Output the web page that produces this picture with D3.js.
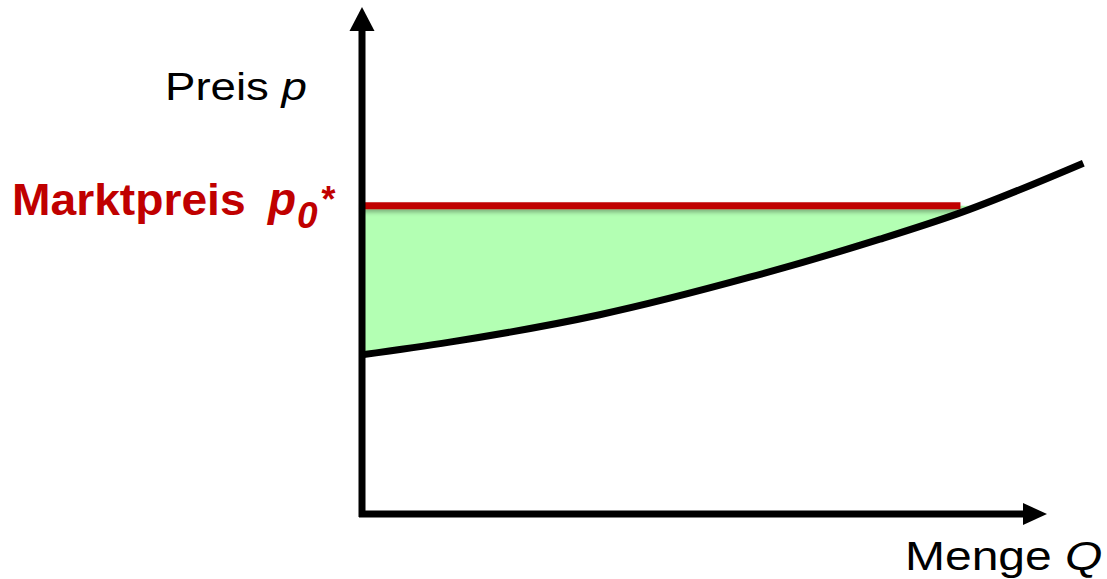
<!DOCTYPE html>
<html>
<head>
<meta charset="utf-8">
<script src="https://cdn.jsdelivr.net/npm/d3@7"></script>
<style>
  html, body { margin: 0; padding: 0; background: #fff; }
  svg { display: block; font-family: "Liberation Sans", Arial, sans-serif; }
</style>
</head>
<body>
<svg id="chart"></svg>
<script>
// supply curve (Q, p in arbitrary units)
const supplyQ = [0.06, 1.28, 3.47, 5.66, 7.56, 8.69, 10.53];
const supplyP = [3.14, 3.39, 3.93, 4.67, 5.42, 5.92, 6.92];
// market price
const marketPrice = 6.08;
// labels
const yLabel = ["Preis ", "p"];
const xLabel = ["Menge ", "Q"];
const priceLabel = ["Marktpreis", "p", "0", "*"];

const width = 1107;
const height = 579;

const svg = d3.select("#chart").attr("width", width).attr("height", height);

const x = d3.scaleLinear().domain([0, 10]).range([362, 1047]);
const y = d3.scaleLinear().domain([0, 10]).range([514, 7]);

const supply = supplyQ.map((q, i) => ({ q: q, p: supplyP[i] }));
supply[0].q = 0; // start the curve on the axis

// where the curve meets the market price
let qStar = supplyQ[supplyQ.length - 1];
for (let i = 1; i < supply.length; i++) {
  const a = supply[i - 1], b = supply[i];
  if (a.p <= marketPrice && b.p >= marketPrice) {
    qStar = a.q + (marketPrice - a.p) / (b.p - a.p) * (b.q - a.q);
    break;
  }
}

const fillPts = supply.filter(d => d.q < qStar).concat([{ q: qStar, p: marketPrice }]);

const defs = svg.append("defs");
const shadow = defs.append("filter").attr("id", "shadow")
  .attr("filterUnits", "userSpaceOnUse")
  .attr("x", 0).attr("y", 0).attr("width", width).attr("height", height);
shadow.append("feDropShadow")
  .attr("dx", 0).attr("dy", 3).attr("stdDeviation", 2)
  .attr("flood-color", "#000").attr("flood-opacity", 0.3);

// producer surplus area
svg.append("path")
  .datum(fillPts)
  .attr("d", d3.area()
    .x(d => x(d.q))
    .y0(d => y(d.p))
    .y1(y(marketPrice))
    .curve(d3.curveMonotoneX))
  .attr("fill", "#b3ffb3");

// market price line
svg.append("line")
  .attr("x1", x(0)).attr("x2", x(qStar) - 17)
  .attr("y1", y(marketPrice)).attr("y2", y(marketPrice))
  .attr("stroke", "#c00000")
  .attr("stroke-width", 7)
  .attr("filter", "url(#shadow)");

// supply curve
svg.append("path")
  .datum(supply)
  .attr("d", d3.line().x(d => x(d.q)).y(d => y(d.p)).curve(d3.curveMonotoneX))
  .attr("fill", "none")
  .attr("stroke", "#000")
  .attr("stroke-width", 7);

// axes
svg.append("line")
  .attr("x1", x(0)).attr("x2", x(0))
  .attr("y1", y(0) + 3).attr("y2", y(10) + 22)
  .attr("stroke", "#000").attr("stroke-width", 7);
svg.append("path")
  .attr("d", `M${x(0)},${y(10)} L${x(0) + 12.5},${y(10) + 24} L${x(0) - 12.5},${y(10) + 24} Z`)
  .attr("fill", "#000");

svg.append("line")
  .attr("x1", x(0) - 3).attr("x2", x(10) - 22)
  .attr("y1", y(0)).attr("y2", y(0))
  .attr("stroke", "#000").attr("stroke-width", 7);
svg.append("path")
  .attr("d", `M${x(10)},${y(0)} L${x(10) - 24},${y(0) - 11} L${x(10) - 24},${y(0) + 11} Z`)
  .attr("fill", "#000");

// labels (text in the picture is a little stretched sideways)
function label(px, py, sx, size, opts) {
  return svg.append("text")
    .attr("transform", `translate(${px},${py}) scale(${sx},1)`)
    .attr("font-size", size)
    .attr("font-weight", opts.bold ? "bold" : null)
    .attr("font-style", opts.italic ? "italic" : null)
    .attr("fill", opts.color || "#000");
}

const yl = label(165, 100, 1.2, 38, {});
yl.append("tspan").text(yLabel[0]);
yl.append("tspan").attr("font-style", "italic").text(yLabel[1]);

const xl = label(905, 570, 1.2, 40, {});
xl.append("tspan").text(xLabel[0]);
xl.append("tspan").attr("font-style", "italic").text(xLabel[1]);

const red = "#c00000";
label(12, 215, 1.05, 44, { bold: true, color: red }).text(priceLabel[0]);
label(268, 215, 1.0, 46, { bold: true, italic: true, color: red }).text(priceLabel[1]);
label(297, 228, 1.0, 37, { bold: true, italic: true, color: red }).text(priceLabel[2]);
label(320, 212, 1.0, 36, { bold: true, italic: true, color: red }).text(priceLabel[3]);
</script>
</body>
</html>
